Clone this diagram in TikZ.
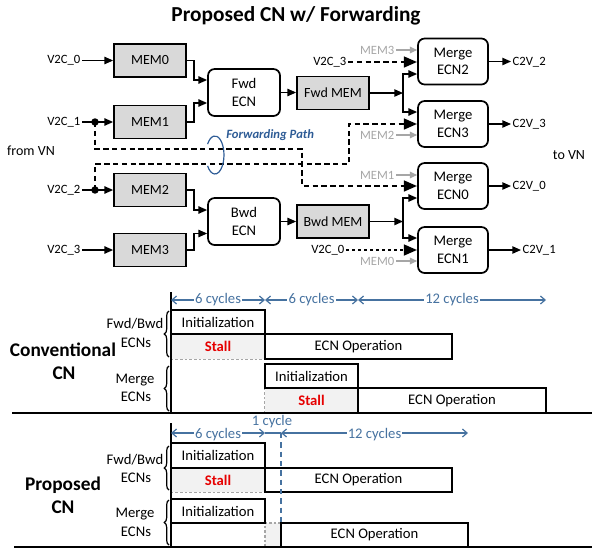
\documentclass[tikz,border=0pt]{standalone}
\usepackage{fontspec}
\setmainfont{Carlito}
\usetikzlibrary{arrows.meta,calc,decorations.pathreplacing}
\definecolor{memgray}{RGB}{217,217,217}
\definecolor{lgray}{RGB}{166,166,166}
\definecolor{fpblue}{RGB}{46,92,150}
\definecolor{dimblue}{RGB}{70,114,160}
\definecolor{stallfill}{RGB}{242,242,242}
\definecolor{stallred}{RGB}{230,0,0}
\tikzset{
  mem/.style={draw, fill=memgray, line width=1.3pt, minimum width=54pt, minimum height=24.75pt, inner sep=0pt, font=\fontsize{10.5}{12}\selectfont},
  ecnb/.style={draw, rounded corners=5pt, line width=1.3pt, fill=white, minimum width=54pt, minimum height=35.25pt, inner sep=0pt, align=center, font=\fontsize{11}{14}\selectfont},
  merge/.style={ecnb, minimum width=52.5pt, minimum height=34.5pt, font=\fontsize{11}{13}\selectfont},
  lbl/.style={inner sep=1pt, font=\fontsize{9.5}{11}\selectfont},
  glbl/.style={lbl, text=lgray},
  arr/.style={line width=1pt, -{Triangle[length=6.5pt,width=5.5pt]}},
  garr/.style={draw=lgray, line width=1pt, -{Triangle[length=5.5pt,width=5pt]}},
  dpath/.style={line width=2pt, dash pattern=on 4pt off 2.6pt, -{Triangle[length=10pt,width=8pt]}},
  tbox/.style={draw, line width=1.2pt, inner sep=0pt, font=\fontsize{11}{13}\selectfont},
  stallbox/.style={fill=stallfill, inner sep=0pt, text=stallred, font=\bfseries\fontsize{11}{13}\selectfont},
  gdash/.style={draw=lgray, line width=0.8pt, dash pattern=on 2pt off 1.5pt},
  dim/.style={draw=dimblue, line width=0.9pt, {Straight Barb[length=3.5pt,width=6pt]}-{Straight Barb[length=3.5pt,width=6pt]}},
  dimlbl/.style={fill=white, inner sep=0.8pt, text=dimblue, font=\fontsize{11}{13}\selectfont},
  side/.style={inner sep=0pt, font=\fontsize{11}{13}\selectfont},
  big/.style={inner sep=0pt, font=\bfseries\fontsize{14.5}{17}\selectfont},
  brc/.style={decorate, decoration={brace, amplitude=3.5pt}, line width=0.9pt},
}
\begin{document}
\begin{tikzpicture}[x=0.75pt,y=-0.75pt]
\useasboundingbox (0,0) rectangle (592,553);

% ---------- title ----------
\node[font=\bfseries\fontsize{16}{19}\selectfont] (title) at (296,16) {Proposed CN w/ Forwarding};

% ---------- boxes ----------
\node[mem] (mem0) at (150,60.5) {MEM0};
\node[mem] (mem1) at (150,122) {MEM1};
\node[mem] (mem2) at (150,190) {MEM2};
\node[mem] (mem3) at (150,250) {MEM3};
\node[ecnb] (fwd) at (244,92.5) {Fwd\\ECN};
\node[ecnb] (bwd) at (244,221.5) {Bwd\\ECN};
\node[mem] (fwdmem) at (333,93) {Fwd MEM};
\node[mem] (bwdmem) at (333,221.5) {Bwd MEM};
\node[merge] (ecn2) at (453,61.5) {Merge\\ECN2};
\node[merge] (ecn3) at (453,124) {Merge\\ECN3};
\node[merge] (ecn0) at (453,186) {Merge\\ECN0};
\node[merge] (ecn1) at (453,250) {Merge\\ECN1};

% ---------- inputs ----------
\node[lbl,anchor=east] (v0) at (82,60.5) {V2C\_0};
\node[lbl,anchor=east] (v1) at (82,122) {V2C\_1};
\node[lbl,anchor=east] (v2) at (82,190) {V2C\_2};
\node[lbl,anchor=east] (v3) at (82,250) {V2C\_3};
\coordinate (d1) at (95,122);
\coordinate (d2) at (95,190);
\draw[arr] (v0.east) -- (mem0.west);
\draw[line width=1pt] (v1.east) -- (d1);
\draw[arr] (d1) -- (mem1.west);
\draw[line width=1pt] (v2.east) -- (d2);
\draw[arr] (d2) -- (mem2.west);
\draw[arr] (v3.east) -- (mem3.west);

\node[lbl, font=\fontsize{10.5}{12}\selectfont] (fromvn) at (31,151) {from VN};
\node[lbl, font=\fontsize{10.5}{12}\selectfont] (tovn) at (569,155) {to VN};

% ---------- internal connections ----------
\draw[arr] (mem0.east) -- ++(7,0) |- ($(fwd.west)+(0,-12.5)$);
\draw[arr] (mem1.east) -- ++(7,0) |- ($(fwd.west)+(0,10.5)$);
\draw[arr] (mem2.east) -- ++(7,0) |- ($(bwd.west)+(0,-11.5)$);
\draw[arr] (mem3.east) -- ++(7,0) |- ($(bwd.west)+(0,12)$);
\draw[arr] (fwd.east) -- (fwd.east -| fwdmem.west);
\draw[arr] (bwd.east) -- (bwd.east -| bwdmem.west);
\coordinate (j1) at (403,93);
\coordinate (j2) at (403,221.5);
\draw[arr] (fwdmem.east) -- (j1);
\draw[arr] (j1) |- ($(ecn2.west)+(0,12.5)$);
\draw[arr] (j1) |- ($(ecn3.west)+(0,-12)$);
\draw[arr] (bwdmem.east) -- (j2);
\draw[arr] (j2) |- ($(ecn0.west)+(0,12)$);
\draw[arr] (j2) |- ($(ecn1.west)+(0,-12)$);

% ---------- gray MEM inputs ----------
\node[glbl,anchor=east] (g3) at (396,50) {MEM3};
\node[glbl,anchor=east] (g2) at (396,135) {MEM2};
\node[glbl,anchor=east] (g1) at (396,175) {MEM1};
\node[glbl,anchor=east] (g0) at (396,261) {MEM0};
\draw[garr] (g3.east) -- (ecn2.west |- g3.east);
\draw[garr] (g2.east) -- (ecn3.west |- g2.east);
\draw[garr] (g1.east) -- (ecn0.west |- g1.east);
\draw[garr] (g0.east) -- (ecn1.west |- g0.east);

% ---------- dashed inputs ----------
\node[lbl,anchor=east] (v3b) at (348,62) {V2C\_3};
\node[lbl,anchor=east] (v0b) at (346,250) {V2C\_0};
\draw[dpath] (v3b.east) -- (v3b.east -| ecn2.west);
\draw[dpath, dash pattern=on 2.5pt off 2pt] (v0b.east) -- (v0b.east -| ecn1.west);
\draw[dpath] (d1) |- (302,149) |- (ecn0.west);
\draw[dpath] (d2) |- (349,164) |- (ecn3.west);
\fill (d1) circle[radius=2.8pt];
\fill (d2) circle[radius=2.8pt];

% ---------- outputs ----------
\node[lbl,anchor=west] (c2) at (511,62) {C2V\_2};
\node[lbl,anchor=west] (c3) at (511,124) {C2V\_3};
\node[lbl,anchor=west] (c0) at (511,186) {C2V\_0};
\node[lbl,anchor=west] (c1) at (521,250) {C2V\_1};
\draw[arr] (ecn2.east) -- (ecn2.east -| c2.west);
\draw[arr] (ecn3.east) -- (ecn3.east -| c3.west);
\draw[arr] (ecn0.east) -- (ecn0.east -| c0.west);
\draw[arr] (ecn1.east) -- (ecn1.east -| c1.west);

% ---------- forwarding path ----------
\coordinate (fpc) at (215,155);
\draw[draw=fpblue, line width=0.9pt] ($(fpc)+(-7.4,-10.9)$) arc[start angle=145, end angle=-145, x radius=6.75pt, y radius=14.25pt];
\node[anchor=west, inner sep=0pt, text=fpblue, font=\bfseries\itshape\fontsize{9.5}{11}\selectfont] (fplbl) at (226,135) {Forwarding Path};

% =========== Conventional timing ===========
\node[stallbox, minimum width=70.5pt, minimum height=18.75pt] (cs1) at (218,346.5) {Stall};
\node[stallbox, minimum width=69.75pt, minimum height=18.75pt] (cs2) at (311.5,400.5) {Stall};
\draw[gdash] (cs1.south west) -- (cs1.south east);
\draw[gdash] (cs2.south west) -- (cs2.north west);
\node[tbox, minimum width=70.5pt, minimum height=18pt] (ci1) at (218,322) {Initialization};
\node[tbox, minimum width=140.25pt, minimum height=18.75pt] (co1) at (358.5,346.5) {ECN Operation};
\node[tbox, minimum width=69.75pt, minimum height=18pt] (ci2) at (311.5,376) {Initialization};
\node[tbox, minimum width=141pt, minimum height=18.75pt] (co2) at (452,400.5) {ECN Operation};
\draw[line width=1.2pt] (171,292) -- (171,413);
\draw[line width=1.9pt] (12,413) -- (592,413);
\draw[dim] (171,300) -- (265,300) node[dimlbl, midway] (cd1) {6 cycles};
\draw[dim] (265,300) -- (358,300) node[dimlbl, midway] (cd2) {6 cycles};
\draw[dim] (358,300) -- (546,300) node[dimlbl, midway] (cd3) {12 cycles};
\node[side] (cfb) at (135,324) {Fwd/Bwd};
\node[side] (cfe) at (136,343) {ECNs};
\node[side] (cmg) at (135,380) {Merge};
\node[side] (cme) at (136,397) {ECNs};
\draw[brc] (169,357) -- (169,311);
\draw[brc] (169,411) -- (169,366);
\node[big] (conv) at (63,350) {Conventional};
\node[big] (convcn) at (64,373) {CN};

% =========== Proposed timing ===========
\node[stallbox, minimum width=70.5pt, minimum height=18pt] (ps1) at (218,480) {Stall};
\draw[gdash] (ps1.south west) -- (ps1.south east);
\fill[stallfill] (265,523) rectangle (281,547);
\draw[gdash] (265,547) -- (265,523) -- (281,523);
\node[tbox, minimum width=70.5pt, minimum height=18.75pt] (pi1) at (218,455.5) {Initialization};
\node[tbox, minimum width=140.25pt, minimum height=18pt] (po1) at (358.5,480) {ECN Operation};
\node[tbox, minimum width=70.5pt, minimum height=18pt] (pi2) at (218,511) {Initialization};
\node[tbox, minimum width=140.25pt, minimum height=18pt] (po2) at (374.5,535) {ECN Operation};
\draw[draw=dimblue, line width=1.2pt, dash pattern=on 4pt off 3pt] (281,433) -- (281,523);
\draw[line width=1.2pt] (171,423) -- (171,547);
\draw[line width=1.9pt] (14,547) -- (592,547);
\draw[dim] (171,433) -- (265,433) node[dimlbl, midway, yshift=-1pt] (pd1) {6 cycles};
\draw[draw=dimblue, line width=0.9pt] (265,433) -- (281,433);
\draw[dim] (281,433) -- (468,433) node[dimlbl, midway, yshift=-1pt] (pd3) {12 cycles};
\node[dimlbl, fill=none] (pd2) at (272,422) {1 cycle};
\node[side] (pfb) at (135,460) {Fwd/Bwd};
\node[side] (pfe) at (136,478) {ECNs};
\node[side] (pmg) at (135,514) {Merge};
\node[side] (pme) at (136,532) {ECNs};
\draw[brc] (169,490) -- (169,446);
\draw[brc] (169,545) -- (169,500);
\node[big] (prop) at (63,485) {Proposed};
\node[big] (propcn) at (63,507) {CN};
\end{tikzpicture}
\end{document}
